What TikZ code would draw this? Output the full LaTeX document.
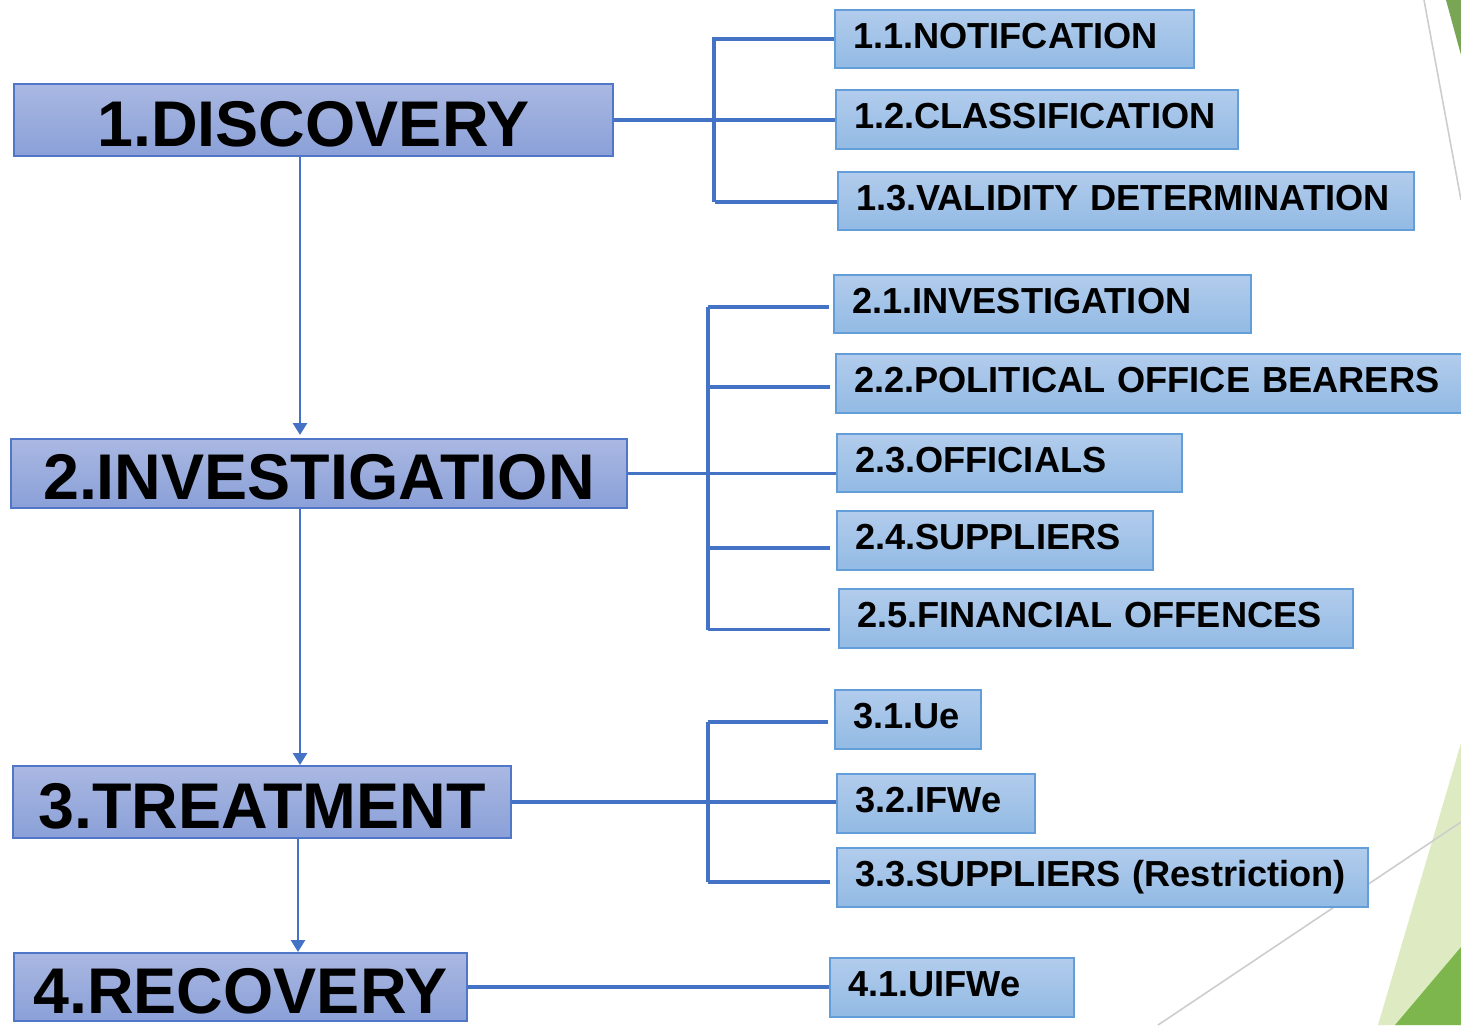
\documentclass[tikz,border=0pt]{standalone}
\usepackage{fontspec}
\setmainfont{Liberation Sans}
\usetikzlibrary{arrows.meta,calc}

\definecolor{mainTop}{RGB}{170,184,226}
\definecolor{mainBot}{RGB}{138,160,216}
\definecolor{mainLine}{RGB}{80,118,200}
\definecolor{subTop}{RGB}{178,204,236}
\definecolor{subBot}{RGB}{146,186,228}
\definecolor{subLine}{RGB}{100,158,216}
\definecolor{link}{RGB}{68,114,196}
\definecolor{leafDark}{RGB}{120,166,84}
\definecolor{leafGreen}{RGB}{124,182,76}
\definecolor{leafLight}{RGB}{222,235,194}
\definecolor{hairline}{RGB}{205,205,205}

\tikzset{
  mainbox/.style={draw=mainLine, line width=0.9pt, top color=mainTop, bottom color=mainBot,
    anchor=north west, inner sep=0pt, font=\bfseries\fontsize{32.3}{36}\selectfont,
    text height=26.1pt, text depth=0pt},
  subbox/.style={draw=subLine, line width=1pt, top color=subTop, bottom color=subBot,
    anchor=north west, inner xsep=9pt, inner ysep=0pt, align=left,
    font=\bfseries\fontsize{18.1}{20}\selectfont, text height=13pt, text depth=4pt},
  link/.style={draw=link, line width=1.8pt},
  arr/.style={draw=link, line width=1.35pt, -{Triangle[width=7pt,length=6pt]}},
}

\begin{document}
\begin{tikzpicture}[x=0.5pt,y=-0.5pt]
\useasboundingbox (0,0) rectangle (1461,1025);

% corner decorations
\fill[leafLight] (1461,743) -- (1378,1025) -- (1461,1025) -- cycle;
\fill[leafGreen] (1395,1025) -- (1461,947) -- (1461,1025) -- cycle;
\fill[leafDark] (1446,0) -- (1461,0) -- (1461,55) -- cycle;
\draw[hairline, line width=0.8pt] (1424,0) -- (1461,200);
\draw[hairline, line width=0.8pt] (1158,1025) -- (1461,822);

% main stages
\node[mainbox, minimum width=299.5pt, minimum height=36pt] (d) at (13,83) {1.DISCOVERY};
\node[mainbox, minimum width=308pt, minimum height=34.5pt] (inv) at (10,438) {2.INVESTIGATION};
\node[mainbox, minimum width=249pt, minimum height=36pt] (tr) at (12,765) {3.TREATMENT};
\node[mainbox, minimum width=226.5pt, minimum height=34pt] (rec) at (13,952) {4.RECOVERY};

% sub-steps
\node[subbox, minimum width=179.5pt, text width=161.5pt, minimum height=29pt] (s11) at (834,9) {1.1.NOTIFCATION};
\node[subbox, minimum width=201pt, text width=183pt, minimum height=29.5pt] (s12) at (835,89) {1.2.CLASSIFICATION};
\node[subbox, minimum width=288pt, text width=270pt, minimum height=29pt] (s13) at (837,171) {1.3.VALIDITY DETERMINATION};

\node[subbox, minimum width=208.5pt, text width=190.5pt, minimum height=29pt] (s21) at (833,274) {2.1.INVESTIGATION};
\node[subbox, minimum width=317.5pt, text width=299.5pt, minimum height=29.5pt] (s22) at (835,353) {2.2.POLITICAL OFFICE BEARERS};
\node[subbox, minimum width=172.5pt, text width=154.5pt, minimum height=29pt] (s23) at (836,433) {2.3.OFFICIALS};
\node[subbox, minimum width=158pt, text width=140pt, minimum height=29.5pt] (s24) at (836,510) {2.4.SUPPLIERS};
\node[subbox, minimum width=257pt, text width=239pt, minimum height=29.5pt] (s25) at (838,588) {2.5.FINANCIAL OFFENCES};

\node[subbox, minimum width=73pt, text width=55pt, minimum height=29.5pt] (s31) at (834,689) {3.1.Ue};
\node[subbox, minimum width=99pt, text width=81pt, minimum height=29.5pt] (s32) at (836,773) {3.2.IFWe};
\node[subbox, minimum width=265.5pt, text width=247.5pt, minimum height=29.5pt] (s33) at (836,847) {3.3.SUPPLIERS (Restriction)};

\node[subbox, minimum width=122pt, text width=104pt, minimum height=29.5pt] (s41) at (829,957) {4.1.UIFWe};

% bracket spines and the column of the stage arrows
\coordinate (b1) at (714,0);
\coordinate (b2) at (708,0);
\coordinate (b3) at (708,0);
\coordinate (col) at (300,0);

% stage 1 links
\draw[link] (d.east) -- (d.east -| s12.west);
\draw[link] ([xshift=-1pt]b1 |- s11.west) -- (s11.west);
\draw[link] (b1 |- s11.west) -- ([yshift=-0.5pt]b1 |- s13.west);
\draw[link] ([xshift=0.5pt,yshift=-0.5pt]b1 |- s13.west) -- ([yshift=-0.5pt]s13.west);

% stage 2 links
\draw[link] (inv.east) -- (inv.east -| s23.west);
\draw[link] ([yshift=-1.5pt]b2 |- s21.west) -- ([yshift=-5.5pt]b2 |- s25.west);
\draw[link] ([yshift=-1.5pt]b2 |- s21.west) -- ([xshift=-2pt,yshift=-1.5pt]s21.west);
\draw[link] ([yshift=-1.8pt]b2 |- s22.west) -- ([xshift=-2.5pt,yshift=-1.8pt]s22.west);
\draw[link] ([yshift=-3.8pt]b2 |- s24.west) -- ([xshift=-3pt,yshift=-3.8pt]s24.west);
\draw[link] ([yshift=-5.5pt]b2 |- s25.west) -- ([xshift=-4pt,yshift=-5.5pt]s25.west);

% stage 3 links
\draw[link] (tr.east) -- (tr.east -| s32.west);
\draw[link] ([yshift=-1.3pt]b3 |- s31.west) -- ([yshift=-2.3pt]b3 |- s33.west);
\draw[link] ([yshift=-1.3pt]b3 |- s31.west) -- ([xshift=-3pt,yshift=-1.3pt]s31.west);
\draw[link] ([yshift=-2.3pt]b3 |- s33.west) -- ([xshift=-3pt,yshift=-2.3pt]s33.west);

% stage 4 link
\draw[link] (rec.east) -- (rec.east -| s41.west);

% flow between stages
\draw[arr] (col |- d.south) -- ([yshift=1.5pt]col |- inv.north);
\draw[arr] (col |- inv.south) -- (col |- tr.north);
\draw[arr] ([xshift=-1pt]col |- tr.south) -- ([xshift=-1pt]col |- rec.north);
\end{tikzpicture}
\end{document}
